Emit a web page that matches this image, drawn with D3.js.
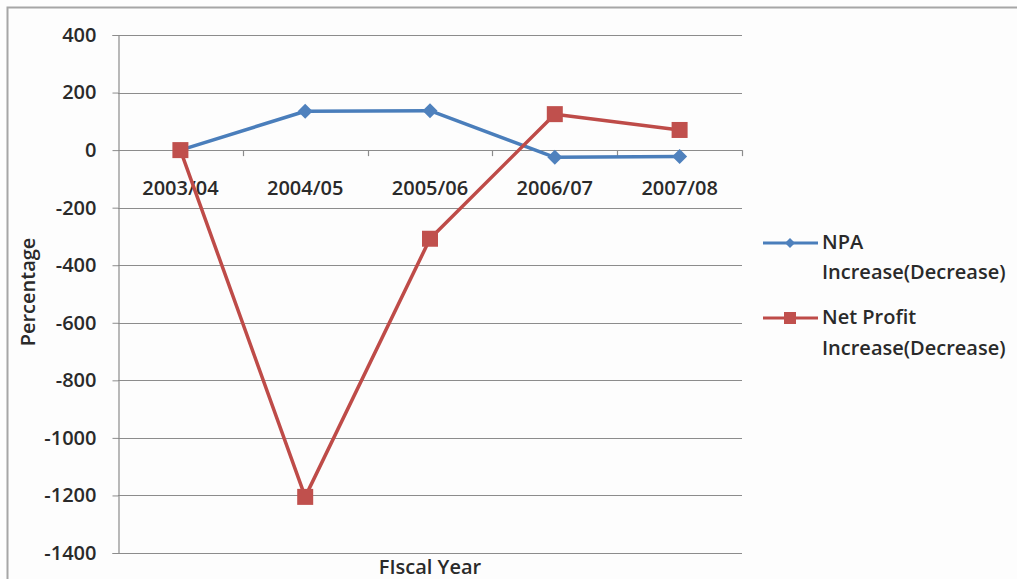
<!DOCTYPE html>
<html>
<head>
<meta charset="utf-8">
<script src="https://cdn.jsdelivr.net/npm/d3@7"></script>
<style>
  html, body { margin: 0; padding: 0; background: #fff; }
  svg text { font-family: "Open Sans", "Liberation Sans", sans-serif; fill: #2a2a2a; font-weight: 600; }
</style>
</head>
<body>
<svg id="chart" width="1017" height="579"></svg>
<script>
const categories = ["2003/04", "2004/05", "2005/06", "2006/07", "2007/08"];
const npaValues = [0, 135, 137, -25, -22];
const profitValues = [0, -1205, -308, 125, 70];
const yTicks = [400, 200, 0, -200, -400, -600, -800, -1000, -1200, -1400];
const seriesNames = [["NPA", "Increase(Decrease)"], ["Net Profit", "Increase(Decrease)"]];

(function () {
const svg = d3.select("#chart");
const fontSize = 20;

// outer frame
svg.append("rect").attr("x", 0).attr("y", 0).attr("width", 1017).attr("height", 579).attr("fill", "#fdfdfd");
svg.append("path").attr("d", "M7.5,579 V7.5 H1017").attr("fill", "none").attr("stroke", "#a6a6a6").attr("stroke-width", 2);

const pLeft = 118, pRight = 742, pTop = 35, pBottom = 553;
const x = d3.scaleBand().domain(categories).range([pLeft, pRight]);
const y = d3.scaleLinear().domain([-1400, 400]).range([pBottom, pTop]);

// gridlines
svg.append("g").selectAll("line").data(yTicks).join("line")
  .attr("x1", pLeft).attr("x2", pRight)
  .attr("y1", d => Math.round(y(d)) + 0.5).attr("y2", d => Math.round(y(d)) + 0.5)
  .attr("stroke", "#8c8c8c").attr("stroke-width", 1.2);

// y axis
const yAxis = svg.append("g").attr("transform", `translate(${pLeft + 0.5},0)`)
  .call(d3.axisLeft(y).tickValues(yTicks).tickSize(6).tickPadding(16).tickFormat(d => String(d)));
yAxis.attr("font-family", null).attr("font-size", null);
yAxis.select(".domain").attr("stroke", "#8c8c8c").attr("stroke-width", 1.2);
yAxis.selectAll(".tick line").attr("stroke", "#8c8c8c");
yAxis.selectAll(".tick text").attr("font-size", fontSize).attr("fill", "#2a2a2a");

// x axis at zero
const xAxis = svg.append("g").attr("transform", `translate(0,${Math.round(y(0)) + 0.5})`)
  .call(d3.axisBottom(x).tickSize(0).tickPadding(30));
xAxis.attr("font-family", null).attr("font-size", null);
xAxis.select(".domain").remove();
xAxis.selectAll(".tick text").attr("font-size", fontSize).attr("fill", "#2a2a2a");
// category boundary ticks
svg.append("g").selectAll("line").data(categories.slice(1)).join("line")
  .attr("x1", d => Math.round(x(d)) + 0.5).attr("x2", d => Math.round(x(d)) + 0.5)
  .attr("y1", y(0)).attr("y2", y(0) + 6)
  .attr("stroke", "#8c8c8c").attr("stroke-width", 1.2);
svg.append("line").attr("x1", pRight + 0.5).attr("x2", pRight + 0.5).attr("y1", y(0)).attr("y2", y(0) + 6)
  .attr("stroke", "#8c8c8c").attr("stroke-width", 1.2);

const cx = d => x(d) + x.bandwidth() / 2;
const line = d3.line().x(d => cx(d[0])).y(d => y(d[1]));

const blue = "#4a7ebb", blueM = "#4f81bd";
const red = "#be4b48", redM = "#c0504d";

const npaData = categories.map((c, i) => [c, npaValues[i]]);
const profitData = categories.map((c, i) => [c, profitValues[i]]);

// NPA line
svg.append("path").datum(npaData).attr("d", line)
  .attr("fill", "none").attr("stroke", blue).attr("stroke-width", 3.5).attr("stroke-linejoin", "round");
svg.append("g").selectAll("path").data(npaData).join("path")
  .attr("transform", d => `translate(${cx(d[0])},${y(d[1])})`)
  .attr("d", "M0,-7.5L7.5,0L0,7.5L-7.5,0Z").attr("fill", blueM);

// Profit line
svg.append("path").datum(profitData).attr("d", line)
  .attr("fill", "none").attr("stroke", red).attr("stroke-width", 3.5).attr("stroke-linejoin", "round");
svg.append("g").selectAll("rect").data(profitData).join("rect")
  .attr("x", d => cx(d[0]) - 8).attr("y", d => y(d[1]) - 8)
  .attr("width", 16).attr("height", 16).attr("fill", redM);

// axis titles
svg.append("text").attr("transform", "translate(35,292) rotate(-90)").attr("text-anchor", "middle")
  .attr("font-size", fontSize).text("Percentage");
svg.append("text").attr("x", 430).attr("y", 574).attr("text-anchor", "middle")
  .attr("font-size", fontSize).text("FIscal Year");

// legend
const legend = [
  { names: seriesNames[0], color: blue, mcolor: blueM, shape: "diamond", ly: 243, ty: 249, gap: 30 },
  { names: seriesNames[1], color: red, mcolor: redM, shape: "square", ly: 318, ty: 324, gap: 31 }
];
const lg = svg.append("g");
legend.forEach(l => {
  lg.append("line").attr("x1", 763).attr("x2", 818).attr("y1", l.ly).attr("y2", l.ly)
    .attr("stroke", l.color).attr("stroke-width", 3);
  if (l.shape === "diamond") {
    lg.append("path").attr("transform", `translate(790,${l.ly})`).attr("d", "M0,-5L5,0L0,5L-5,0Z").attr("fill", l.mcolor);
  } else {
    lg.append("rect").attr("x", 784).attr("y", l.ly - 6).attr("width", 12).attr("height", 12).attr("fill", l.mcolor);
  }
  lg.append("text").attr("x", 822).attr("y", l.ty).attr("font-size", fontSize).text(l.names[0]);
  lg.append("text").attr("x", 822).attr("y", l.ty + l.gap).attr("font-size", fontSize).text(l.names[1]);
});
})();
</script>
</body>
</html>
